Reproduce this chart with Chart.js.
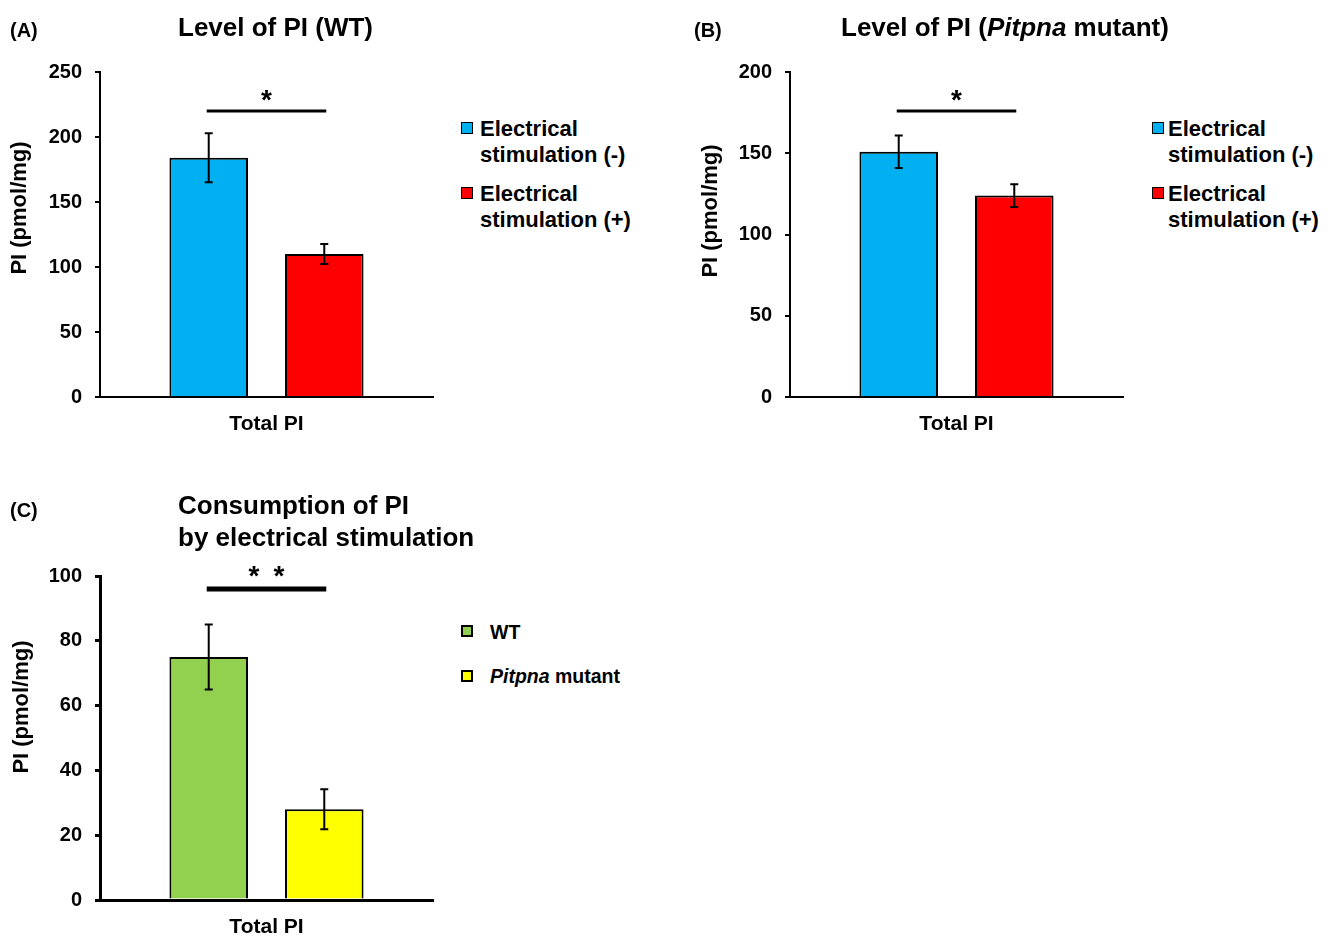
<!DOCTYPE html>
<html><head><meta charset="utf-8">
<script src="https://cdn.jsdelivr.net/npm/chart.js@4/dist/chart.umd.min.js"></script>
<style>
html,body{margin:0;padding:0;background:#fff;}
#page{position:relative;width:1333px;height:936px;overflow:hidden;background:#fff;font-family:"Liberation Sans",Arial,sans-serif;font-weight:bold;color:#000;}
canvas{position:absolute;}
.t{position:absolute;white-space:nowrap;}
.sq{position:absolute;box-sizing:border-box;border:1.5px solid #000;}
</style></head><body><div id="page">
<canvas id="cA" width="450" height="445" style="left:0;top:0"></canvas>
<canvas id="cB" width="450" height="445" style="left:690px;top:0"></canvas>
<canvas id="cC" width="450" height="446" style="left:0;top:490px"></canvas>
<div class="t" style="left:10px;top:18px;font-size:20px;line-height:24px">(A)</div>
<div class="t" style="left:694px;top:18px;font-size:20px;line-height:24px">(B)</div>
<div class="t" style="left:10px;top:498px;font-size:20px;line-height:24px">(C)</div>
<div class="t" style="left:178px;top:12px;font-size:26px;line-height:30px">Level of PI (WT)</div>
<div class="t" style="left:841px;top:12px;font-size:26px;line-height:30px">Level of PI (<i>Pitpna</i> mutant)</div>
<div class="t" style="left:178px;top:489px;font-size:26px;line-height:32px">Consumption of PI<br>by electrical stimulation</div>
<div id="legends"></div>
</div>
<script>
// ---- data ----
const categories = ["Total PI"];
const seriesAB = ["Electrical stimulation (-)", "Electrical stimulation (+)"];
const seriesC = ["WT", "Pitpna mutant"];
const colorsAB = ["#00B0F0", "#FF0000"];
const colorsC = ["#92D050", "#FFFF00"];
const valuesA = [184, 110];
const errorsA = [18.8, 7.7];
const valuesB = [151, 124];
const errorsB = [10, 7];
const valuesC = [75, 28];
const errorsC = [10, 6.2];
const sigLevelA = 220, sigLevelB = 176, sigLevelC = 96;
const sigMarkA = "*", sigMarkB = "*", sigMarkC = "* *";
const ticksA = [0, 50, 100, 150, 200, 250];
const ticksB = [0, 50, 100, 150, 200];
const ticksC = [0, 20, 40, 60, 80, 100];
const yTitle = "PI (pmol/mg)";
const FONT = '"Liberation Sans", Arial, sans-serif';

const extrasPlugin = {
  id: 'extras',
  afterDatasetsDraw(chart, args, o) {
    const ctx = chart.ctx, y = chart.scales.y;
    ctx.save();
    ctx.strokeStyle = '#000'; ctx.fillStyle = '#000';
    ctx.lineWidth = o.errWidth; ctx.lineCap = 'butt';
    chart.data.datasets.forEach((ds, i) => {
      const bar = chart.getDatasetMeta(i).data[0];
      const v = ds.data[0], e = o.errors[i];
      const yt = y.getPixelForValue(v + e), yb = y.getPixelForValue(v - e);
      ctx.beginPath();
      ctx.moveTo(bar.x, yt); ctx.lineTo(bar.x, yb);
      ctx.moveTo(bar.x - o.cap, yt); ctx.lineTo(bar.x + o.cap, yt);
      ctx.moveTo(bar.x - o.cap, yb); ctx.lineTo(bar.x + o.cap, yb);
      ctx.stroke();
    });
    const b0 = chart.getDatasetMeta(0).data[0], b1 = chart.getDatasetMeta(1).data[0];
    const sy = y.getPixelForValue(o.sig);
    ctx.lineWidth = o.sigWidth;
    ctx.beginPath(); ctx.moveTo(b0.x - 2, sy); ctx.lineTo(b1.x + 2, sy); ctx.stroke();
    ctx.font = 'bold 28px ' + FONT; ctx.textAlign = 'center'; ctx.textBaseline = 'alphabetic';
    const cx = (b0.x + b1.x) / 2;
    const marks = o.mark.split(' ');
    const gap = 25;
    marks.forEach((m, k) => {
      ctx.fillText(m, cx + (k - (marks.length - 1) / 2) * gap, sy - o.sigWidth / 2 - o.markGap);
    });
    ctx.translate(o.titleX, o.titleY); ctx.rotate(-Math.PI / 2);
    ctx.font = 'bold 22px ' + FONT; ctx.textBaseline = 'middle';
    ctx.fillText(yTitle, 0, 0);
    ctx.restore();
  }
};

function makeChart(id, vals, errs, names, colors, ticks, sig, mark, p) {
  const yMax = ticks[ticks.length - 1];
  return new Chart(document.getElementById(id), {
    type: 'bar',
    data: {
      labels: categories,
      datasets: names.map((n, i) => ({
        label: n, data: [vals[i]], backgroundColor: colors[i],
        borderColor: '#000', borderWidth: 2, borderSkipped: 'start',
        categoryPercentage: 0.694, barPercentage: 0.68
      }))
    },
    options: {
      responsive: false, animation: false, devicePixelRatio: 1,
      layout: { padding: { top: p.top, right: 17, bottom: 0, left: 0 } },
      plugins: {
        legend: { display: false }, tooltip: { enabled: false }, title: { display: false },
        extras: { errors: errs, cap: 4, errWidth: 2, sig: sig, sigWidth: p.sigWidth, mark: mark,
                  markGap: p.markGap, titleX: p.titleX, titleY: p.titleY }
      },
      scales: {
        x: {
          z: 1,
          grid: { display: false, drawTicks: false },
          border: { display: true, color: '#000', width: p.axisWidth },
          ticks: { color: '#000', padding: 15, font: { family: FONT, size: 21, weight: 'bold' } },
          afterFit(s) { s.height = p.xh; }
        },
        y: {
          min: 0, max: yMax,
          afterBuildTicks(s) { s.ticks = ticks.map(v => ({ value: v })); },
          grid: { drawOnChartArea: false, drawTicks: true, tickLength: 5, color: '#000', lineWidth: p.axisWidth },
          border: { display: true, color: '#000', width: p.axisWidth },
          ticks: { color: '#000', padding: 13, font: { family: FONT, size: 20, weight: 'bold' } },
          afterFit(s) { s.width = 100; }
        }
      }
    },
    plugins: [extrasPlugin]
  });
}

makeChart('cA', valuesA, errorsA, seriesAB, colorsAB, ticksA, sigLevelA, sigMarkA,
  { top: 72, xh: 48, axisWidth: 2, sigWidth: 3, markGap: 1, titleX: 20, titleY: 208 });
makeChart('cB', valuesB, errorsB, seriesAB, colorsAB, ticksB, sigLevelB, sigMarkB,
  { top: 72, xh: 48, axisWidth: 2, sigWidth: 3, markGap: 1, titleX: 21, titleY: 211 });
makeChart('cC', valuesC, errorsC, seriesC, colorsC, ticksC, sigLevelC, sigMarkC,
  { top: 86, xh: 36, axisWidth: 3, sigWidth: 5, markGap: 1, titleX: 22, titleY: 217 });

// ---- legends (HTML, built from the series arrays) ----
function addLegend(items, colors, sqX, txtX, sqTops, txtTops, fontSize, lineH, sqSize, bw) {
  const host = document.getElementById('legends');
  items.forEach((name, i) => {
    const sq = document.createElement('div');
    sq.className = 'sq';
    sq.style.cssText = `left:${sqX}px;top:${sqTops[i]}px;width:${sqSize}px;height:${sqSize}px;background:${colors[i]};border-width:${bw}px`;
    host.appendChild(sq);
    const t = document.createElement('div');
    t.className = 't';
    t.style.cssText = `left:${txtX}px;top:${txtTops[i]}px;font-size:${fontSize}px;line-height:${lineH}px`;
    const words = name.split(' ');
    let html;
    if (name.startsWith('Electrical')) html = words[0] + '<br>' + words.slice(1).join(' ');
    else html = name.replace('Pitpna', '<i>Pitpna</i>');
    t.innerHTML = html;
    host.appendChild(t);
  });
}
addLegend(seriesAB, colorsAB, 461, 480, [122, 187], [116, 181], 22, 26, 12, 1.5);
addLegend(seriesAB, colorsAB, 1152, 1168, [122, 187], [116, 181], 22, 26, 12, 1.5);
addLegend(seriesC, colorsC, 461, 490, [625, 670], [620, 664], 19.5, 24, 12, 2);
</script>
</body></html>
